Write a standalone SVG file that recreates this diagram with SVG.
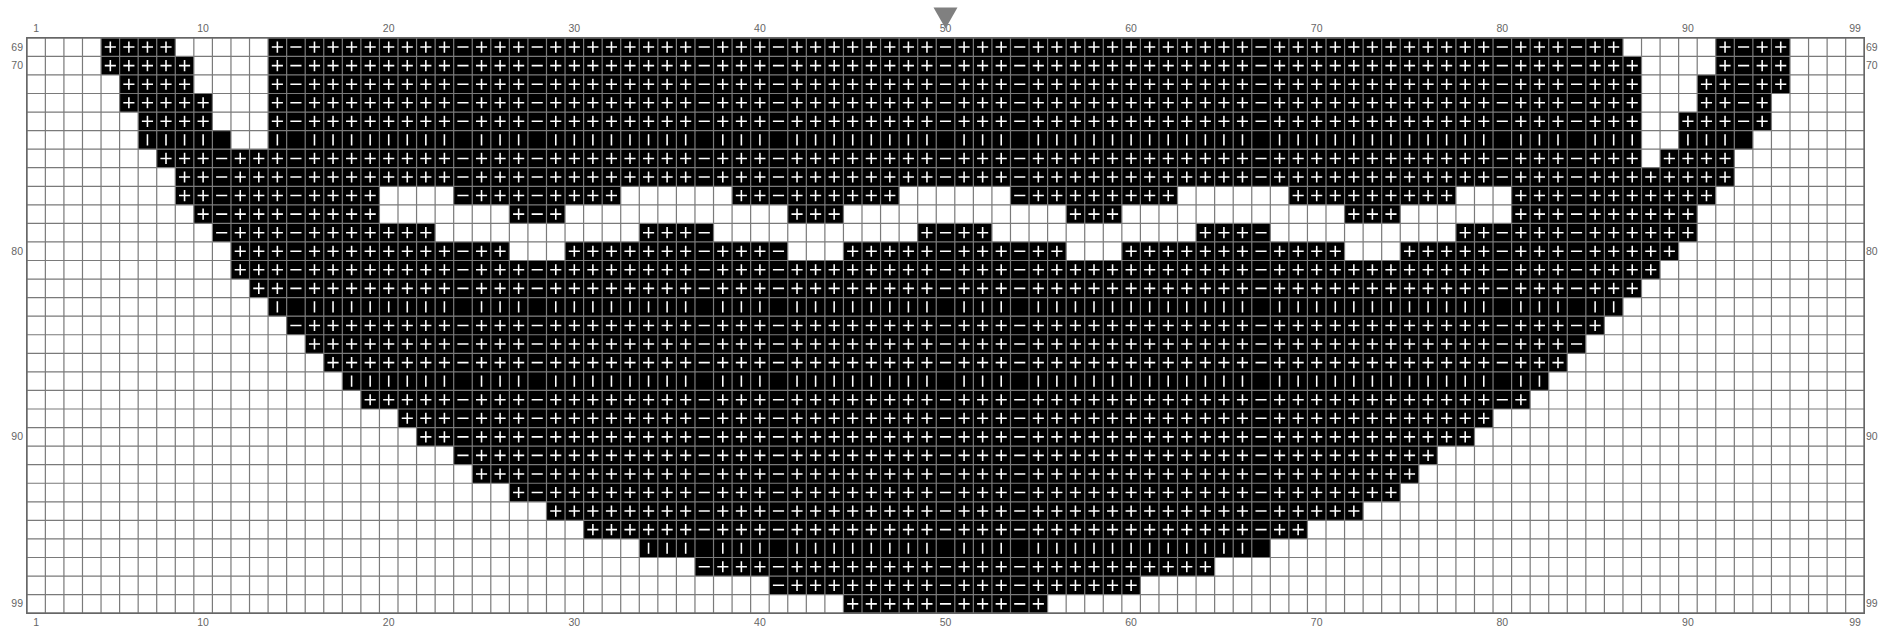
<svg xmlns="http://www.w3.org/2000/svg" xmlns:xlink="http://www.w3.org/1999/xlink" width="1881" height="628" viewBox="0 0 1881 628">
<style>
.lbl{font-family:"Liberation Sans",Arial,sans-serif;font-size:10.5px;fill:#666}
.c{text-anchor:middle}
.l{text-anchor:end}
</style>
<defs>
<path id="rn" fill="none" d="M4 .5h4M13 .5h73M91 .5h4M4 1.5h5M13 1.5h74M91 1.5h4M5 2.5h4M13 2.5h74M90 2.5h5M5 3.5h5M13 3.5h74M90 3.5h4M6 4.5h4M13 4.5h74M89 4.5h5M7 6.5h80M88 6.5h4M8 7.5h84M8 8.5h11M23 8.5h9M38 8.5h9M53 8.5h9M68 8.5h9M80 8.5h11M9 9.5h10M26 9.5h3M41 9.5h3M56 9.5h3M71 9.5h3M80 9.5h10M10 10.5h12M33 10.5h4M48 10.5h4M63 10.5h4M77 10.5h13M11 11.5h15M29 11.5h12M44 11.5h12M59 11.5h12M74 11.5h15M11 12.5h77M12 13.5h75M14 15.5h71M15 16.5h69M16 17.5h67M18 19.5h63M20 20.5h59M21 21.5h57M23 22.5h53M24 23.5h51M26 24.5h48M28 25.5h44M30 26.5h39M36 28.5h28M40 29.5h20M44 30.5h11"/>
<path id="rb" fill="none" d="M6 5.5h5M13 5.5h74M89 5.5h4M13 14.5h73M17 18.5h65M33 27.5h34"/>
<clipPath id="pc" clipPathUnits="userSpaceOnUse">
<rect x="0" y="0" width="10" height="31"/><rect x="11" y="0" width="3" height="31"/><rect x="15" y="0" width="8" height="31"/><rect x="24" y="0" width="3" height="31"/><rect x="28" y="0" width="8" height="31"/><rect x="37" y="0" width="3" height="31"/><rect x="41" y="0" width="8" height="31"/><rect x="50" y="0" width="3" height="31"/><rect x="54" y="0" width="12" height="31"/><rect x="67" y="0" width="12" height="31"/><rect x="80" y="0" width="3" height="31"/><rect x="84" y="0" width="8" height="31"/><rect x="93" y="0" width="6" height="31"/>
</clipPath>
</defs>
<rect width="1881" height="628" fill="#fff"/>
<g id="chart" transform="translate(26.8 37.8) scale(18.56)">
<g id="cells">
<use href="#rn" xlink:href="#rn" stroke="#000" stroke-width="1"/>
<use href="#rb" xlink:href="#rb" stroke="#000" stroke-width="1"/>
</g>
<g id="symbols">
<use href="#rn" xlink:href="#rn" stroke="#fff" stroke-width="0.085" stroke-dasharray="0.6 0.4" stroke-dashoffset="0.8"/>
<g clip-path="url(#pc)">
<use href="#rn" xlink:href="#rn" stroke="#fff" stroke-width="0.6" stroke-dasharray="0.085 0.915" stroke-dashoffset="0.5425"/>
<use href="#rb" xlink:href="#rb" stroke="#fff" stroke-width="0.6" stroke-dasharray="0.085 0.915" stroke-dashoffset="0.5425"/>
</g>
</g>
<path id="grid" fill="none" stroke="#7a7a7a" stroke-width="1.2" vector-effect="non-scaling-stroke" d="M0 0v31m1-31v31m1-31v31m1-31v31m1-31v31m1-31v31m1-31v31m1-31v31m1-31v31m1-31v31m1-31v31m1-31v31m1-31v31m1-31v31m1-31v31m1-31v31m1-31v31m1-31v31m1-31v31m1-31v31m1-31v31m1-31v31m1-31v31m1-31v31m1-31v31m1-31v31m1-31v31m1-31v31m1-31v31m1-31v31m1-31v31m1-31v31m1-31v31m1-31v31m1-31v31m1-31v31m1-31v31m1-31v31m1-31v31m1-31v31m1-31v31m1-31v31m1-31v31m1-31v31m1-31v31m1-31v31m1-31v31m1-31v31m1-31v31m1-31v31m1-31v31m1-31v31m1-31v31m1-31v31m1-31v31m1-31v31m1-31v31m1-31v31m1-31v31m1-31v31m1-31v31m1-31v31m1-31v31m1-31v31m1-31v31m1-31v31m1-31v31m1-31v31m1-31v31m1-31v31m1-31v31m1-31v31m1-31v31m1-31v31m1-31v31m1-31v31m1-31v31m1-31v31m1-31v31m1-31v31m1-31v31m1-31v31m1-31v31m1-31v31m1-31v31m1-31v31m1-31v31m1-31v31m1-31v31m1-31v31m1-31v31m1-31v31m1-31v31m1-31v31m1-31v31m1-31v31m1-31v31m1-31v31m1-31v31m1-31v31m1-31v31M0 0h99m-99 1h99m-99 1h99m-99 1h99m-99 1h99m-99 1h99m-99 1h99m-99 1h99m-99 1h99m-99 1h99m-99 1h99m-99 1h99m-99 1h99m-99 1h99m-99 1h99m-99 1h99m-99 1h99m-99 1h99m-99 1h99m-99 1h99m-99 1h99m-99 1h99m-99 1h99m-99 1h99m-99 1h99m-99 1h99m-99 1h99m-99 1h99m-99 1h99m-99 1h99m-99 1h99m-99 1h99"/>
<rect id="border" x="0" y="0" width="99" height="31" fill="none" stroke="#666" stroke-width="1.5" vector-effect="non-scaling-stroke"/>
</g>
<g id="labels" class="lbl">
<text class="c" x="36.1" y="32.3">1</text><text class="c" x="203.1" y="32.3">10</text><text class="c" x="388.7" y="32.3">20</text><text class="c" x="574.3" y="32.3">30</text><text class="c" x="759.9" y="32.3">40</text><text class="c" x="945.5" y="32.3">50</text><text class="c" x="1131.1" y="32.3">60</text><text class="c" x="1316.7" y="32.3">70</text><text class="c" x="1502.3" y="32.3">80</text><text class="c" x="1687.9" y="32.3">90</text><text class="c" x="1855" y="32.3">99</text>
<text class="c" x="36.1" y="626">1</text><text class="c" x="203.1" y="626">10</text><text class="c" x="388.7" y="626">20</text><text class="c" x="574.3" y="626">30</text><text class="c" x="759.9" y="626">40</text><text class="c" x="945.5" y="626">50</text><text class="c" x="1131.1" y="626">60</text><text class="c" x="1316.7" y="626">70</text><text class="c" x="1502.3" y="626">80</text><text class="c" x="1687.9" y="626">90</text><text class="c" x="1855" y="626">99</text>
<text class="l" x="23" y="50.5">69</text><text class="l" x="23" y="69">70</text><text class="l" x="23" y="254.6">80</text><text class="l" x="23" y="440.2">90</text><text class="l" x="23" y="607.3">99</text>
<text x="1866" y="50.5">69</text><text x="1866" y="69">70</text><text x="1866" y="254.6">80</text><text x="1866" y="440.2">90</text><text x="1866" y="607.3">99</text>
</g>
<polygon id="marker" points="933.5,7.5 957.5,7.5 945.5,28.5" fill="#808080"/>
</svg>
